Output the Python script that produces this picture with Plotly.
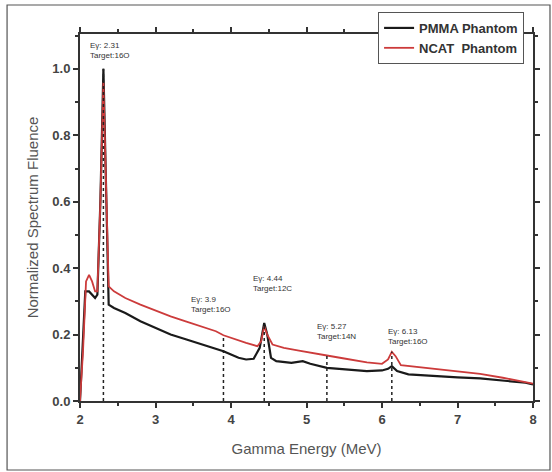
import numpy as np
import plotly.graph_objects as go

# Gamma energy grid (MeV) and normalized fluence for each phantom
energy_pmma = [2.00, 2.04, 2.07, 2.12, 2.16, 2.20, 2.23, 2.27, 2.31, 2.35, 2.38, 2.45, 2.6, 2.8,
               3.0, 3.2, 3.4, 3.6, 3.8, 3.9, 4.0, 4.1, 4.2, 4.3, 4.38, 4.44, 4.48, 4.53, 4.6,
               4.8, 4.95, 5.05, 5.27, 5.5, 5.8, 6.0, 6.08, 6.13, 6.2, 6.35, 6.7, 7.0, 7.3,
               7.6, 7.9, 8.0]
fluence_pmma = [0.0, 0.20, 0.33, 0.33, 0.32, 0.31, 0.32, 0.60, 1.00, 0.60, 0.29, 0.28, 0.265, 0.24,
                0.22, 0.20, 0.186, 0.172, 0.156, 0.150, 0.140, 0.130, 0.125, 0.127, 0.160, 0.235,
                0.200, 0.130, 0.120, 0.115, 0.120, 0.112, 0.100, 0.095, 0.090, 0.092, 0.097,
                0.105, 0.090, 0.080, 0.074, 0.071, 0.068, 0.062, 0.055, 0.050]

energy_ncat = [2.00, 2.04, 2.08, 2.12, 2.16, 2.20, 2.23, 2.27, 2.31, 2.35, 2.38, 2.45, 2.6, 2.8,
               3.0, 3.2, 3.4, 3.6, 3.8, 3.9, 4.0, 4.2, 4.35, 4.40, 4.44, 4.48, 4.55, 4.7, 4.9,
               5.1, 5.27, 5.5, 5.8, 6.0, 6.08, 6.13, 6.18, 6.25, 6.4, 6.7, 7.0, 7.3, 7.6,
               7.9, 8.0]
fluence_ncat = [0.0, 0.15, 0.36, 0.38, 0.36, 0.33, 0.33, 0.60, 0.96, 0.60, 0.345, 0.33, 0.31, 0.29,
                0.272, 0.255, 0.240, 0.225, 0.210, 0.198, 0.190, 0.175, 0.165, 0.180, 0.225,
                0.200, 0.170, 0.160, 0.152, 0.145, 0.137, 0.128, 0.116, 0.112, 0.125, 0.148,
                0.135, 0.108, 0.104, 0.097, 0.090, 0.082, 0.070, 0.058, 0.052]

# Marked prompt-gamma lines
line_energy = [2.31, 3.9, 4.44, 5.27, 6.13]
line_target = ["16O", "16O", "12C", "14N", "16O"]

x_ticks = [2, 3, 4, 5, 6, 7, 8]
y_ticks = [0.0, 0.2, 0.4, 0.6, 0.8, 1.0]

fig = go.Figure()

fig.add_trace(go.Scatter(x=energy_pmma, y=fluence_pmma, mode="lines", name="PMMA Phantom",
                         line=dict(color="#1a1a1a", width=2.2)))
fig.add_trace(go.Scatter(x=energy_ncat, y=fluence_ncat, mode="lines", name="NCAT  Phantom",
                         line=dict(color="#cc3b3b", width=1.8)))

# dashed markers from the axis up to the spectrum at each line
for e in line_energy:
    top = max(np.interp(e, energy_ncat, fluence_ncat), np.interp(e, energy_pmma, fluence_pmma))
    fig.add_trace(go.Scatter(x=[e, e], y=[0, top], mode="lines",
                             line=dict(color="#222222", width=1.5, dash="dot"),
                             showlegend=False, hoverinfo="skip"))

# label placement (x offset in MeV, y position)
label_pos = [(2.107, 1.054), (3.44, 0.29), (4.27, 0.355), (5.11, 0.21), (6.05, 0.193)]
for e, tgt, (lx, ly) in zip(line_energy, line_target, label_pos):
    fig.add_annotation(x=lx, y=ly, xanchor="left", yanchor="middle", showarrow=False,
                       align="left", text=f"Eγ: {e:g}<br>Target:{tgt}",
                       font=dict(family="Liberation Sans", size=8, color="#333333"))

axis_common = dict(showline=True, linecolor="#333333", linewidth=2, mirror="ticks",
                   ticks="outside", ticklen=5, tickwidth=1.5, tickcolor="#333333",
                   showgrid=False, zeroline=False,
                   tickfont=dict(family="Liberation Sans", size=13, color="#444444", weight="bold"))

fig.update_xaxes(range=[2, 8], tickvals=x_ticks, ticktext=[str(v) for v in x_ticks],
                 minor=dict(dtick=0.5, ticks="outside", ticklen=3, tickcolor="#333333"),
                 title=dict(text="Gamma Energy (MeV)", standoff=18,
                            font=dict(family="Liberation Sans", size=15, color="#555555")),
                 **axis_common)
fig.update_yaxes(range=[0, 1.105], tickvals=y_ticks, ticktext=[f"{v:.1f}" for v in y_ticks],
                 minor=dict(dtick=0.1, ticks="outside", ticklen=3, tickcolor="#333333"),
                 title=dict(text="Normalized Spectrum Fluence", standoff=10,
                            font=dict(family="Liberation Sans", size=15, color="#555555")),
                 **axis_common)

# outer frame of the figure
fig.add_shape(type="rect", xref="paper", yref="paper", x0=-0.161, x1=1.0375, y0=-0.188, y1=1.079,
              line=dict(color="#555555", width=1.2), layer="below")

fig.update_layout(
    width=552, height=472,
    margin=dict(l=80, r=19, t=34, b=71),
    plot_bgcolor="white", paper_bgcolor="white",
    legend=dict(x=0.658, y=1.06, xanchor="left", yanchor="top",
                bgcolor="white", bordercolor="#555555", borderwidth=1,
                font=dict(family="Liberation Sans", size=13, color="#333333", weight="bold"),
                tracegroupgap=0),
)

fig.write_html("out.html")
